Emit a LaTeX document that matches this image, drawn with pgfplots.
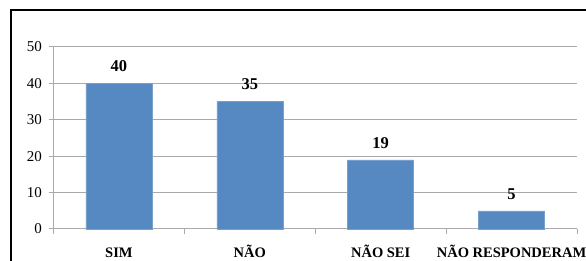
\documentclass[border=0pt]{standalone}
\usepackage{pgfplots}
\pgfplotsset{compat=1.18}
\usepackage{fontspec}
\setmainfont{Liberation Serif}
\definecolor{barblue}{RGB}{86,136,193}
\definecolor{gridgray}{RGB}{170,170,170}
\begin{document}
\begin{tikzpicture}[x=1pt,y=1pt]
\useasboundingbox (0,0) rectangle (586,261);
\draw[line width=2pt] (10.5,-5) -- (10.5,250.5) -- (590,250.5);
\begin{axis}[
  at={(53.5pt,32pt)}, anchor=south west,
  scale only axis, width=523.5pt, height=182pt,
  xmin=-0.5, xmax=3.5, ymin=0, ymax=50,
  ytick={0,10,...,50},
  xtick={-0.5,0.5,1.5,2.5,3.5},
  x tick label as interval,
  xticklabels={\textbf{SIM},\textbf{NÃO},\textbf{NÃO SEI},\textbf{NÃO RESPONDERAM}},
  axis x line*=bottom, axis y line*=left,
  axis line style={gridgray, line width=1pt, -},
  ymajorgrids, grid style={gridgray, line width=1pt},
  tick align=outside, major tick length=5pt,
  tick style={gridgray, line width=1pt},
  /pgf/number format/assume math mode=true,
  yticklabel style={font=\fontsize{15}{15}\selectfont, xshift=-3pt},
  xticklabel style={font=\fontsize{14.5}{14.5}\selectfont, anchor=base, inner sep=0pt, text depth=0pt, yshift=-24pt},
  ybar, bar width=66pt,
  nodes near coords,
  nodes near coords style={font=\bfseries\fontsize{16.5}{16.5}\selectfont, yshift=8pt},
  clip=false,
]
\addplot[fill=barblue, draw=barblue!80!white] coordinates {(0,40) (1,35) (2,19) (3,5)};
\end{axis}
\end{tikzpicture}
\end{document}
